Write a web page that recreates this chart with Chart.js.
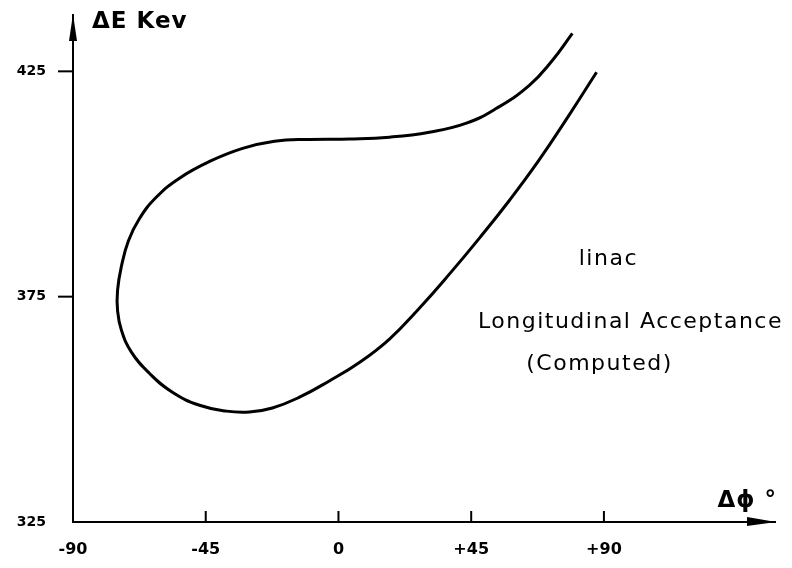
<!DOCTYPE html>
<html><head><meta charset="utf-8">
<script src="https://cdn.jsdelivr.net/npm/chart.js@4.4.1/dist/chart.umd.min.js"></script>
<style>html,body{margin:0;padding:0;background:#fff}</style>
</head><body>
<canvas id="c" width="792" height="568"></canvas>
<script>
// Δφ (degrees) along the acceptance boundary, starting at the upper-right end
const phi = [79.3, 72.5, 64.7, 53.6, 43.4, 30.8, 17.3, 3.7, -9.8, -21.7, -32.5, -43.7, -53.9, -61.7, -67.5, -71.2, -73.6, -74.9, -74.9, -73.6, -70.2, -64.1, -56.3, -47.1, -38.0, -30.2, -22.4, -13.2, -3.1, 7.1, 17.3, 27.5, 37.6, 47.8, 58.0, 68.1, 78.3, 87.5];
// ΔE (keV) for the same points
const dE = [433.4, 427.4, 421.9, 416.8, 413.5, 411.5, 410.4, 410.0, 409.9, 409.5, 407.9, 405.0, 401.3, 397.1, 392.3, 387.4, 381.7, 376.4, 372.0, 367.6, 362.7, 358.0, 353.8, 350.9, 349.6, 349.4, 350.3, 352.7, 356.3, 360.4, 365.6, 372.5, 380.0, 388.0, 396.4, 405.4, 415.4, 424.8];
const xTicks = [-90, -45, 0, 45, 90];
const xTickLabels = ['-90', '-45', '0', '+45', '+90'];
const yTicks = [325, 375, 425];
const yTickLabels = ['325', '375', '425'];
const xAxisTitle = 'Δϕ °';
const yAxisTitle = 'ΔE Kev';
const notes = ['linac', 'Longitudinal Acceptance', '(Computed)'];

const points = phi.map((p, i) => ({x: p, y: dE[i]}));

const decor = {
  id: 'decor',
  afterDraw(chart) {
    const ctx = chart.ctx, xs = chart.scales.x, ys = chart.scales.y, a = chart.chartArea;
    ctx.save();
    ctx.fillStyle = '#000'; ctx.strokeStyle = '#000';
    // y arrow
    ctx.beginPath();
    ctx.moveTo(a.left, a.top - 1);
    ctx.lineTo(a.left + 4, a.top + 26);
    ctx.lineTo(a.left - 4, a.top + 26);
    ctx.closePath(); ctx.fill();
    // x arrow
    ctx.beginPath();
    ctx.moveTo(a.right + 1, a.bottom);
    ctx.lineTo(a.right - 28, a.bottom - 5);
    ctx.lineTo(a.right - 28, a.bottom + 4);
    ctx.closePath(); ctx.fill();
    // x ticks (inside)
    ctx.lineWidth = 2;
    xTicks.slice(1).forEach(v => {
      const px = xs.getPixelForValue(v);
      ctx.beginPath(); ctx.moveTo(px, a.bottom); ctx.lineTo(px, a.bottom - 11); ctx.stroke();
    });
    // y ticks (outside)
    yTicks.slice(1).forEach(v => {
      const py = ys.getPixelForValue(v);
      ctx.beginPath(); ctx.moveTo(a.left, py); ctx.lineTo(a.left - 15, py); ctx.stroke();
    });
    // axis titles
    ctx.textBaseline = 'alphabetic';
    ctx.textAlign = 'left';
    ctx.letterSpacing = '1px';
    ctx.font = 'bold 23px "DejaVu Sans"';
    ctx.fillText(yAxisTitle, a.left + 19, ys.getPixelForValue(434.6));
    ctx.fillText(xAxisTitle, xs.getPixelForValue(128.5), ys.getPixelForValue(328.3));
    // notes
    ctx.textAlign = 'center';
    ctx.letterSpacing = '1.5px';
    ctx.font = '22px "DejaVu Sans"';
    ctx.fillText(notes[0], xs.getPixelForValue(91.5), ys.getPixelForValue(382));
    ctx.fillText(notes[1], xs.getPixelForValue(99), ys.getPixelForValue(368));
    ctx.fillText(notes[2], xs.getPixelForValue(88.5), ys.getPixelForValue(358.7));
    ctx.restore();
  }
};

new Chart(document.getElementById('c'), {
  type: 'scatter',
  data: {datasets: [{
    data: points, showLine: true, borderColor: '#000', borderWidth: 3,
    pointRadius: 0, tension: 0.45, fill: false
  }]},
  options: {
    responsive: false, animation: false,
    layout: {padding: {top: 15, right: 17, left: 0, bottom: 0}},
    plugins: {legend: {display: false}, tooltip: {enabled: false}},
    scales: {
      x: {
        type: 'linear', min: -90, max: 148,
        afterBuildTicks: s => { s.ticks = xTicks.map(v => ({value: v})); },
        afterFit: s => { s.height = 46; s.paddingLeft = 0; s.paddingRight = 0; },
        grid: {display: false, drawTicks: false},
        border: {display: true, color: '#000', width: 2},
        ticks: {color: '#000', padding: 18, autoSkip: false, maxRotation: 0,
          font: {family: 'DejaVu Sans', size: 16, weight: 'bold'},
          callback: v => xTickLabels[xTicks.indexOf(v)]}
      },
      y: {
        type: 'linear', min: 325, max: 437.5,
        afterBuildTicks: s => { s.ticks = yTicks.map(v => ({value: v})); },
        afterFit: s => { s.width = 73; s.paddingTop = 0; s.paddingBottom = 0; },
        grid: {display: false, drawTicks: false},
        border: {display: true, color: '#000', width: 2},
        ticks: {color: '#000', padding: 27, autoSkip: false,
          font: {family: 'DejaVu Sans', size: 14, weight: 'bold'},
          callback: v => yTickLabels[yTicks.indexOf(v)]}
      }
    }
  },
  plugins: [decor]
});
</script>
</body></html>
